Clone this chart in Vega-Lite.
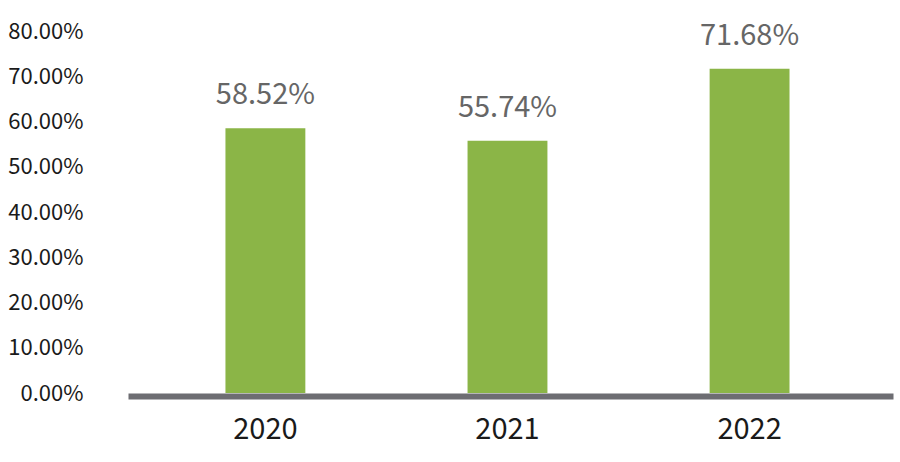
{
  "$schema": "https://vega.github.io/schema/vega-lite/v6.json",
  "autosize": {"type": "none"},
  "padding": {"left": 128, "top": 31, "right": 7, "bottom": 69},
  "width": 765,
  "height": 362,
  "background": "white",
  "config": {"view": {"stroke": null}, "font": "Noto Sans CJK SC"},
  "data": {"values": [
    {"year": "2020", "rate": 0.5852},
    {"year": "2021", "rate": 0.5574},
    {"year": "2022", "rate": 0.7168}
  ]},
  "encoding": {
    "x": {"field": "year", "type": "nominal", "sort": null,
      "scale": {"paddingInner": 0.67, "paddingOuter": 0.415, "align": 0.485},
      "axis": {"title": null, "labelAngle": 0, "ticks": false, "domainColor": "#6d6d72", "domainWidth": 6, "offset": 3,
        "labelFontSize": 29, "labelColor": "#1a1a1a", "labelPadding": 19, "labelFont": "Noto Sans CJK SC"}},
    "y": {"field": "rate", "type": "quantitative",
      "scale": {"domain": [0, 0.8], "nice": false},
      "axis": {"title": null, "format": ".2%", "values": [0, 0.1, 0.2, 0.3, 0.4, 0.5, 0.6, 0.7, 0.8], "grid": false, "domain": false, "ticks": false,
        "labelFontSize": 22, "labelColor": "#1a1a1a", "labelPadding": 45, "labelFont": "Noto Sans CJK SC"}}
  },
  "layer": [
    {"mark": {"type": "bar", "color": "#8bb547"}},
    {"mark": {"type": "text", "baseline": "alphabetic", "dy": -24, "fontSize": 29, "color": "#666666", "font": "Noto Sans CJK SC"},
      "encoding": {"text": {"field": "rate", "type": "quantitative", "format": ".2%"}}}
  ]
}
